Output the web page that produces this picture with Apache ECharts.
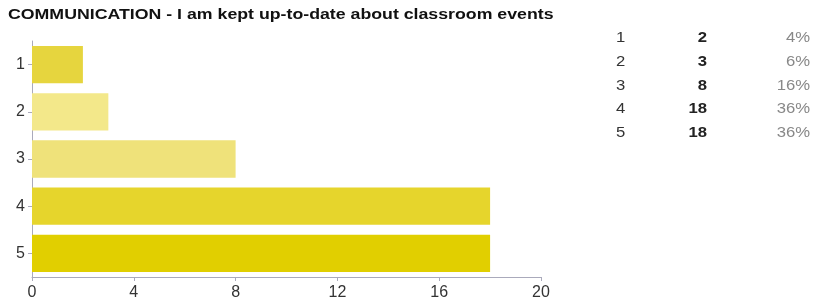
<!DOCTYPE html>
<html>
<head>
<meta charset="utf-8">
<script src="https://cdn.jsdelivr.net/npm/echarts@6/dist/echarts.min.js"></script>
<style>
html, body { margin: 0; padding: 0; background: #fff; }
#chart { width: 816px; height: 308px; }
</style>
</head>
<body>
<div id="chart"></div>
<script>
var titleText = 'COMMUNICATION - I am kept up-to-date about classroom events';
var categories = ['1', '2', '3', '4', '5'];
var counts = [2, 3, 8, 18, 18];
var percents = ['4%', '6%', '16%', '36%', '36%'];
var xTicks = [0, 4, 8, 12, 16, 20];
var barColors = ['#e6d53e', '#f3e88a', '#efe27a', '#e6d52c', '#e1cf00'];

var chart = echarts.init(document.getElementById('chart'));

// the picture is a bit wider than normal text, so stretch the texts a little
var graphics = [{
	type: 'text', x: 8, y: 15, scaleX: 1.25,
	style: { text: titleText, font: 'bold 14.2px "Liberation Sans", Arial', fill: '#111', verticalAlign: 'middle' }
}];
categories.forEach(function (c, i) {
	var y = 38 + i * 23.8;
	graphics.push({ type: 'text', x: 616, y: y, scaleX: 1.15, style: { text: c, font: '14.5px "Liberation Sans", Arial', fill: '#333', verticalAlign: 'middle' } });
	graphics.push({ type: 'text', x: 707, y: y, scaleX: 1.15, style: { text: String(counts[i]), font: 'bold 14.5px "Liberation Sans", Arial', fill: '#222', align: 'right', verticalAlign: 'middle' } });
	graphics.push({ type: 'text', x: 810, y: y, scaleX: 1.15, style: { text: percents[i], font: '14.5px "Liberation Sans", Arial', fill: '#888', align: 'right', verticalAlign: 'middle' } });
});

var option = {
	backgroundColor: '#fff',
	animation: false,
	grid: { left: 32, top: 41, width: 509, height: 236 },
	xAxis: {
		type: 'value', min: 0, max: 20, interval: 4,
		axisLine: { show: true, lineStyle: { color: '#aab' } },
		axisTick: { show: true, length: 4, lineStyle: { color: '#aab' } },
		splitLine: { show: false },
		axisLabel: {
			fontFamily: 'Liberation Sans', fontSize: 16, color: '#333', margin: 8,
			formatter: function (v) { return xTicks.indexOf(v) >= 0 ? v : ''; }
		}
	},
	yAxis: {
		type: 'category', data: categories, inverse: true,
		axisLine: { show: true, lineStyle: { color: '#aab' } },
		axisTick: { show: true, alignWithLabel: true, length: 4, lineStyle: { color: '#aab' } },
		axisLabel: { fontFamily: 'Liberation Sans', fontSize: 16, color: '#333', margin: 7 }
	},
	series: [{
		type: 'bar',
		data: counts.map(function (v, i) { return { value: v, itemStyle: { color: barColors[i] } }; }),
		barCategoryGap: '21%'
	}],
	graphic: graphics
};
chart.setOption(option);
</script>
</body>
</html>
